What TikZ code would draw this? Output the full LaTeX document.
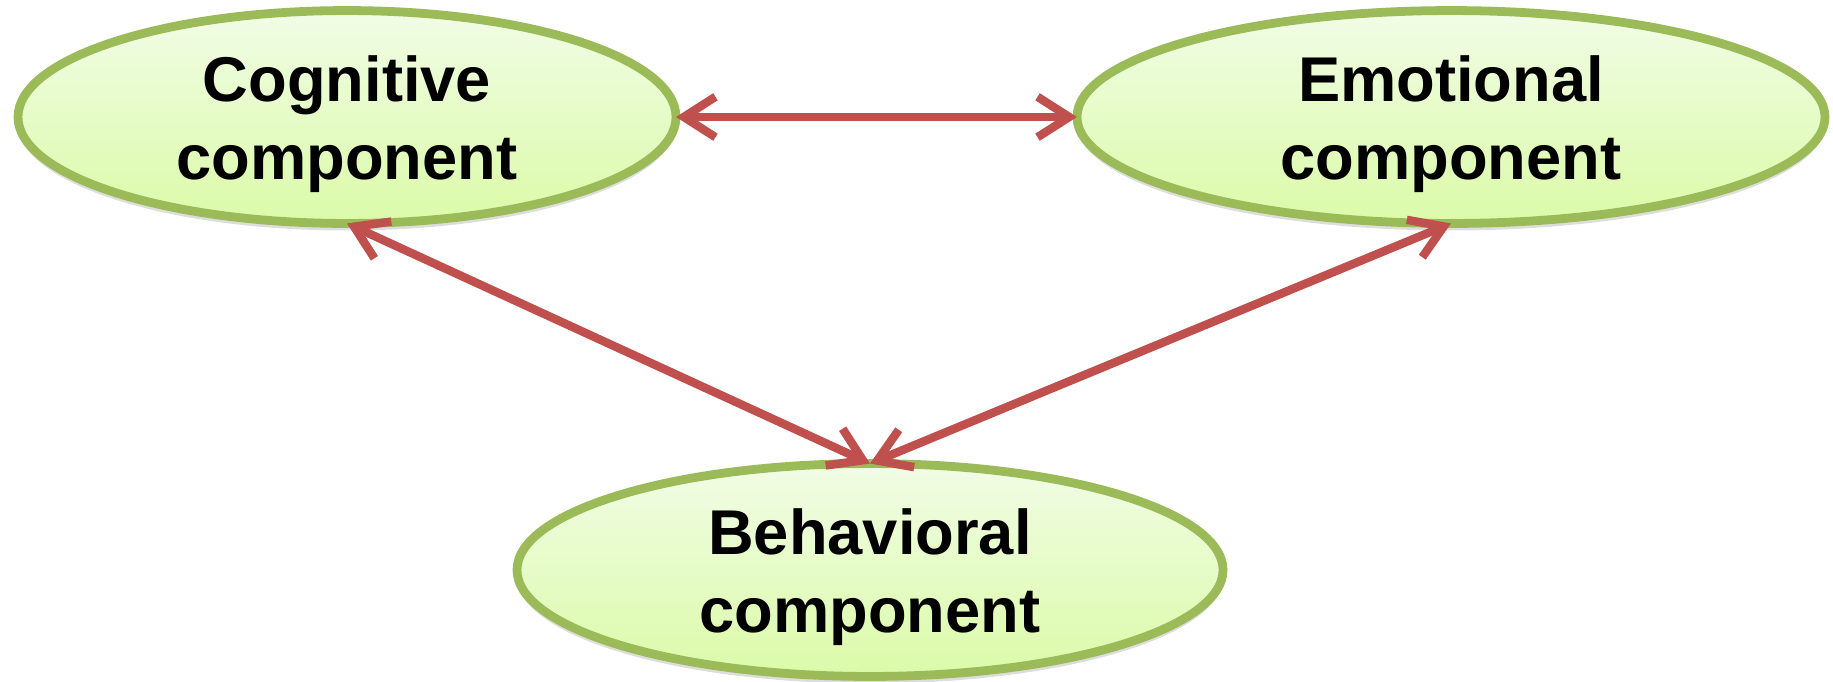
\documentclass[tikz,border=0pt]{standalone}
\usepackage{fontspec}
\setmainfont{Liberation Sans}
\usetikzlibrary{arrows.meta,shapes.geometric,shadows}
\definecolor{bordergreen}{HTML}{9BBB59}
\definecolor{arrowred}{HTML}{C0504D}
\definecolor{filltop}{HTML}{F1FCE6}
\definecolor{fillbot}{HTML}{DBFBA8}
\newcommand{\liftstrut}{\rule{0pt}{0.95em}}
\tikzset{
  comp/.style={ellipse, draw=bordergreen, line width=2.5pt, top color=filltop, bottom color=fillbot,
    inner sep=0pt, outer sep=0pt, minimum height=2.06cm, align=center,
    font=\fontsize{18}{22}\selectfont\bfseries,
    drop shadow={shadow xshift=0pt, shadow yshift=-2pt, opacity=0.22, fill=black!60}},
  link/.style={draw=arrowred, line width=2.4pt, {Straight Barb[length=9pt,width=11.5pt]}-{Straight Barb[length=9pt,width=11.5pt]}}
}
\begin{document}
\begin{tikzpicture}
\useasboundingbox (0,0) rectangle (18.33,-6.81);
\node[comp, minimum width=6.58cm] (cog) at (3.47,-1.17) {\liftstrut Cognitive\\component};
\node[comp, minimum width=7.48cm] (emo) at (14.51,-1.17) {\liftstrut Emotional\\component};
\node[comp, minimum width=7.06cm] (beh) at (8.70,-5.70) {\liftstrut Behavioral\\component};
\draw[link] (cog.east) -- (emo.west);
\draw[link] (cog.south) -- (beh.north);
\draw[link] (emo.south) -- (beh.north);
\end{tikzpicture}
\end{document}
